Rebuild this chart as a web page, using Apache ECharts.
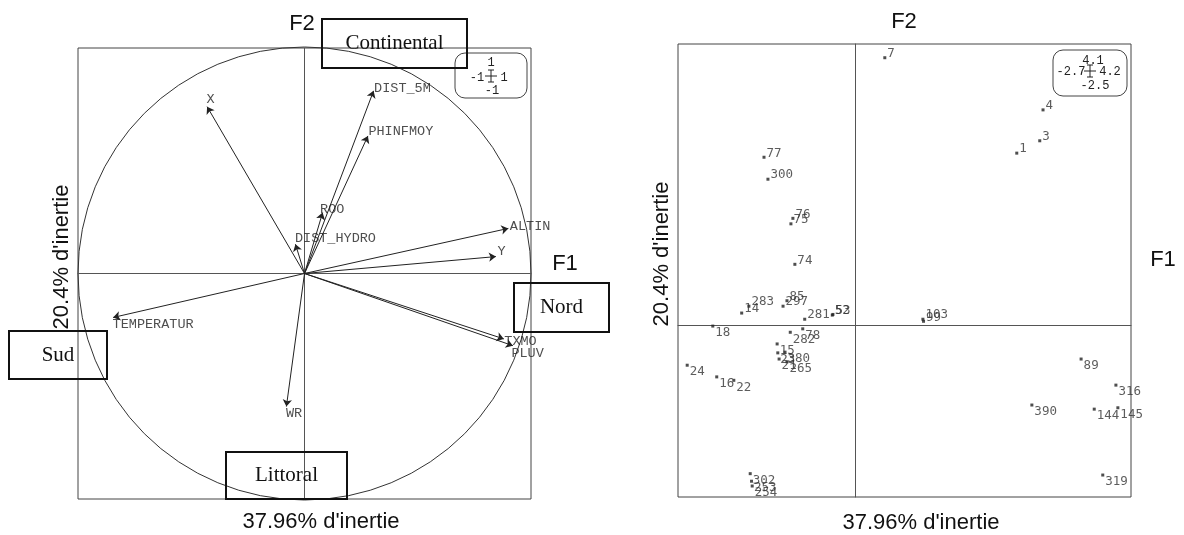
<!DOCTYPE html>
<html>
<head>
<meta charset="utf-8">
<script src="https://cdn.jsdelivr.net/npm/echarts@6/dist/echarts.min.js"></script>
<style>
  html, body { margin: 0; padding: 0; background: #fff; }
  #main { width: 1184px; height: 535px; }
</style>
</head>
<body>
<div id="main"></div>
<script>
// variables (correlation circle, F1 x F2)
const varNames = ['X', 'DIST_5M', 'PHINFMOY', 'ROO', 'DIST_HYDRO', 'ALTIN', 'Y', 'TEMPERATUR', 'WR', 'TXMO', 'PLUV'];
const varF1 = [-0.43, 0.305, 0.28, 0.08, -0.04, 0.90, 0.845, -0.845, -0.08, 0.88, 0.92];
const varF2 = [0.74, 0.81, 0.61, 0.27, 0.13, 0.20, 0.075, -0.195, -0.59, -0.29, -0.32];

// individuals (stations)
const indNames = ['7', '77', '300', '76', '75', '74', '14', '283', '85', '297', '281', '52', '53',
    '18', '78', '282', '15', '23', '380', '21', '265', '24', '16', '22', '302', '253', '254',
    '103', '99', '4', '3', '1', '89', '316', '390', '144', '145', '319'];
const indF1 = [0.45, -1.39, -1.33, -0.95, -0.98, -0.92, -1.73, -1.62, -1.04, -1.10, -0.77, -0.35, -0.34,
    -2.17, -0.80, -0.99, -1.19, -1.18, -1.07, -1.16, -1.04, -2.56, -2.11, -1.85, -1.60, -1.58, -1.57,
    1.03, 1.04, 2.86, 2.81, 2.46, 3.44, 3.97, 2.69, 3.64, 4.00, 3.77];
const indF2 = [3.90, 2.45, 2.13, 1.56, 1.48, 0.89, 0.18, 0.28, 0.36, 0.28, 0.09, 0.15, 0.16,
    -0.01, -0.05, -0.10, -0.27, -0.40, -0.39, -0.49, -0.53, -0.58, -0.75, -0.80, -2.16, -2.27, -2.34,
    0.09, 0.06, 3.14, 2.69, 2.51, -0.49, -0.87, -1.16, -1.22, -1.20, -2.18];

// axis ranges (from the little range boxes)
const circleRange = [-1, 1];
const indRangeF1 = [-2.7, 4.2];
const indRangeF2 = [-2.5, 4.1];

// label nudges for the variable names
const labelOffsets = [[-1, -7], [0, -2], [0, -5], [-3, -3], [-1, -6], [1, -2], [1, -5], [-1, 7], [-1, 7], [0, 3], [-2, 8]];

const monoFont = '"Liberation Mono", "Courier New", monospace';
const sansFont = '"Liberation Sans", Arial, sans-serif';
const serifFont = '"Liberation Serif", "Times New Roman", serif';

const chart = echarts.init(document.getElementById('main'), null, { renderer: 'canvas' });

const hiddenAxis = (grid, range) => ({
    gridIndex: grid,
    type: 'value',
    min: range[0],
    max: range[1],
    axisLine: { show: true, onZero: true, lineStyle: { color: '#555', width: 1 } },
    axisTick: { show: false },
    axisLabel: { show: false },
    splitLine: { show: false }
});

const boxText = (x, y, w, h, text) => ([
    { type: 'rect', shape: { x: x, y: y, width: w, height: h }, style: { fill: 'none', stroke: '#111', lineWidth: 2 }, z: 10 },
    { type: 'text', x: x + w / 2, y: y + h / 2, style: { text: text, font: '21px ' + serifFont, fill: '#111', align: 'center', verticalAlign: 'middle' }, z: 10 }
]);

const axisTitle = (x, y, text, rot) => ({
    type: 'text', x: x, y: y, rotation: rot || 0,
    style: { text: text, font: '22px ' + sansFont, fill: '#111', align: 'center', verticalAlign: 'middle' }
});

const smallText = (x, y, text, font) => ({
    type: 'text', x: x, y: y,
    style: { text: text, font: font, fill: '#222', align: 'center', verticalAlign: 'middle' }
});

const crossMark = (cx, cy) => ([
    { type: 'line', shape: { x1: cx, y1: cy - 6, x2: cx, y2: cy + 6 }, style: { stroke: '#222', lineWidth: 1 } },
    { type: 'line', shape: { x1: cx - 6, y1: cy, x2: cx + 6, y2: cy }, style: { stroke: '#222', lineWidth: 1 } },
    { type: 'line', shape: { x1: cx - 3, y1: cy - 6, x2: cx + 3, y2: cy - 6 }, style: { stroke: '#222', lineWidth: 1 } },
    { type: 'line', shape: { x1: cx - 3, y1: cy + 6, x2: cx + 3, y2: cy + 6 }, style: { stroke: '#222', lineWidth: 1 } }
]);

const legendFont = '12px ' + monoFont;

const staticGraphics = [
    axisTitle(302, 24, 'F2'),
    axisTitle(565, 264, 'F1'),
    axisTitle(62, 257, "20.4% d'inertie", Math.PI / 2),
    axisTitle(321, 522, "37.96% d'inertie"),
    axisTitle(904, 22, 'F2'),
    axisTitle(1163, 260, 'F1'),
    axisTitle(662, 254, "20.4% d'inertie", Math.PI / 2),
    axisTitle(921, 523, "37.96% d'inertie"),

    ...boxText(322, 19, 145, 49, 'Continental'),
    ...boxText(514, 283, 95, 49, 'Nord'),
    ...boxText(9, 331, 98, 48, 'Sud'),
    ...boxText(226, 452, 121, 47, 'Littoral'),

    // range box, left
    { type: 'rect', shape: { x: 455, y: 53, width: 72, height: 45, r: 10 }, style: { fill: 'none', stroke: '#444', lineWidth: 1 } },
    smallText(491, 63, '1', legendFont),
    smallText(477, 78, '-1', legendFont),
    smallText(504, 78, '1', legendFont),
    smallText(492, 91, '-1', legendFont),
    ...crossMark(491, 76),

    // range box, right
    { type: 'rect', shape: { x: 1053, y: 50, width: 74, height: 46, r: 10 }, style: { fill: 'none', stroke: '#444', lineWidth: 1 } },
    smallText(1093, 61, '4.1', legendFont),
    smallText(1071, 72, '-2.7', legendFont),
    smallText(1110, 72, '4.2', legendFont),
    smallText(1095, 86, '-2.5', legendFont),
    ...crossMark(1090, 71)
];

var option = {
    animation: false,
    backgroundColor: '#fff',
    grid: [
        { left: 78, top: 48, width: 453, height: 451, show: true, borderColor: '#444', borderWidth: 1, backgroundColor: 'transparent' },
        { left: 678, top: 44, width: 453, height: 453, show: true, borderColor: '#444', borderWidth: 1, backgroundColor: 'transparent' }
    ],
    xAxis: [hiddenAxis(0, circleRange), hiddenAxis(1, indRangeF1)],
    yAxis: [hiddenAxis(0, circleRange), hiddenAxis(1, indRangeF2)],
    series: [
        {
            // arrows from the origin
            type: 'lines',
            coordinateSystem: 'cartesian2d',
            xAxisIndex: 0,
            yAxisIndex: 0,
            silent: true,
            symbol: ['none', 'arrow'],
            symbolSize: 7,
            lineStyle: { color: '#222', width: 1, opacity: 1, curveness: 0 },
            data: varNames.map((n, i) => ({ coords: [[0, 0], [varF1[i], varF2[i]]] }))
        },
        {
            // variable names at arrow tips
            type: 'scatter',
            xAxisIndex: 0,
            yAxisIndex: 0,
            silent: true,
            symbolSize: 1,
            itemStyle: { color: 'rgba(0,0,0,0)' },
            label: {
                show: true,
                position: 'right',
                distance: 0,
                formatter: (p) => p.name,
                fontFamily: monoFont,
                fontSize: 13.5,
                color: '#222'
            },
            data: varNames.map((n, i) => ({
                name: n,
                value: [varF1[i], varF2[i]],
                label: { offset: labelOffsets[i] }
            }))
        },
        {
            // individuals
            type: 'scatter',
            xAxisIndex: 1,
            yAxisIndex: 1,
            silent: true,
            symbol: 'rect',
            symbolSize: 3,
            itemStyle: { color: '#222' },
            label: {
                show: true,
                position: 'right',
                distance: 1,
                formatter: (p) => p.name,
                fontFamily: '"DejaVu Sans Mono", monospace',
                fontSize: 12.5,
                color: '#333'
            },
            data: indNames.map((n, i) => ({
                name: n,
                value: [indF1[i], indF2[i]],
                label: { offset: [0, indF2[i] >= 0 ? -4 : 7] }
            }))
        }
    ],
    graphic: staticGraphics
};

chart.setOption(option);

// unit circle, sized from the left grid's own scale
const c0 = chart.convertToPixel({ xAxisIndex: 0, yAxisIndex: 0 }, [0, 0]);
const c1 = chart.convertToPixel({ xAxisIndex: 0, yAxisIndex: 0 }, [1, 0]);
chart.setOption({
    graphic: staticGraphics.concat([{
        type: 'circle',
        shape: { cx: c0[0], cy: c0[1], r: c1[0] - c0[0] },
        style: { fill: 'none', stroke: '#333', lineWidth: 1 },
        silent: true
    }])
});
</script>
</body>
</html>
